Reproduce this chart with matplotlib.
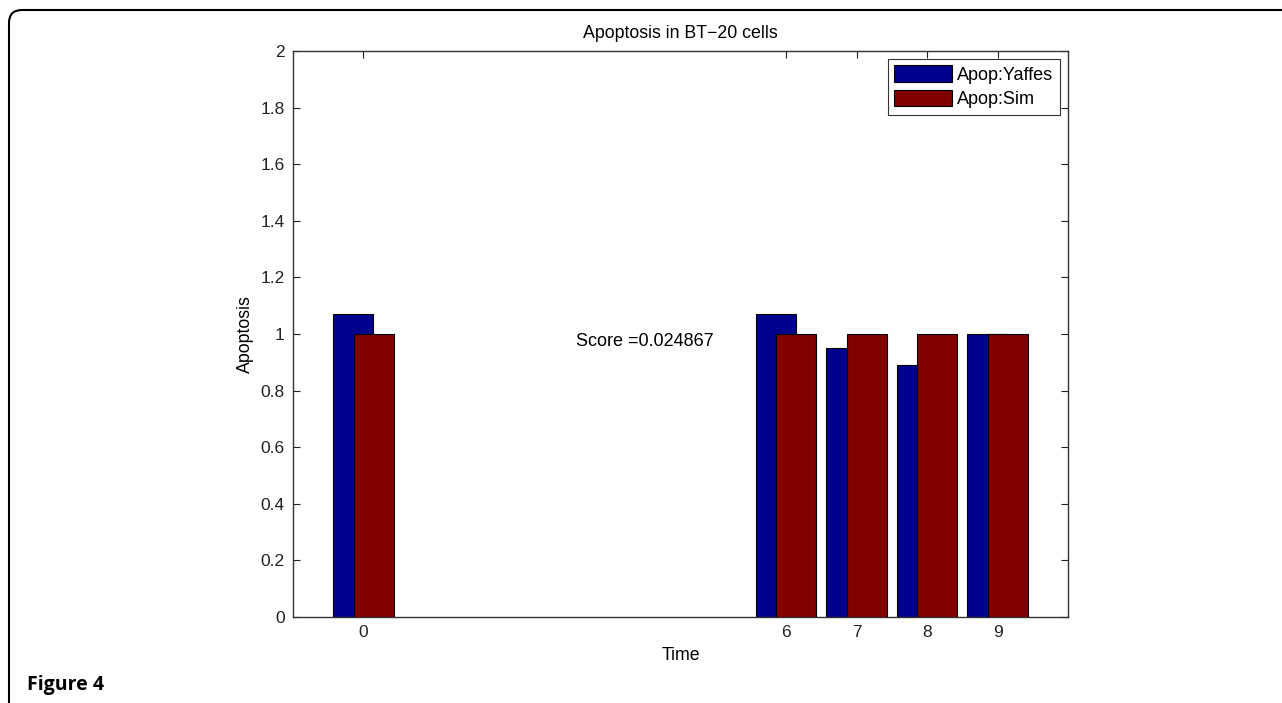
import matplotlib
matplotlib.use("Agg")
import matplotlib.pyplot as plt
import numpy as np
from matplotlib.patches import FancyBboxPatch
from matplotlib.transforms import IdentityTransform

# data
times = [0, 6, 7, 8, 9]
apop_yaffes = [1.07, 1.07, 0.95, 0.89, 1.0]
apop_sim = [1.0, 1.0, 1.0, 1.0, 1.0]
score_text = "Score =0.024867"

BLUE = "#00008F"
RED = "#800000"

plt.rcParams["font.family"] = ["Liberation Sans", "DejaVu Sans"]

W, H = 1282, 703
fig = plt.figure(figsize=(W / 100, H / 100), dpi=100)
ax = fig.add_axes([293 / W, 1 - 617 / H, (1068 - 293) / W, (617 - 51) / H])

x = np.array(times, dtype=float)
bw, off = 0.57, 0.145
ax.bar(x - off, apop_yaffes, bw, color=BLUE, edgecolor="black", lw=0.8,
       label="Apop:Yaffes", zorder=2)
ax.bar(x + off, apop_sim, bw, color=RED, edgecolor="black", lw=0.8,
       label="Apop:Sim", zorder=3)

ax.set_xlim(-1, 10)
ax.set_ylim(0, 2)
ax.set_xticks(times)
ax.set_yticks(np.arange(0, 2.01, 0.2))
ax.set_yticklabels(["0", "0.2", "0.4", "0.6", "0.8", "1", "1.2", "1.4", "1.6", "1.8", "2"])
ax.tick_params(direction="in", length=5, width=0.8, top=True, right=True,
               labelsize=12.5, pad=6, colors="#222222")
for s in ax.spines.values():
    s.set_color("#333333")
    s.set_linewidth(1.0)

ax.set_title("Apoptosis in BT\u221220 cells", fontsize=12.8, pad=9)
ax.set_xlabel("Time", fontsize=12.8, labelpad=5)
ax.set_ylabel("Apoptosis", fontsize=12.8, labelpad=5)
ax.text(3.02, 0.975, score_text, fontsize=13, va="center", ha="left")

leg = ax.legend(loc="upper right", fontsize=13, fancybox=False, framealpha=1,
                edgecolor="#333333", handlelength=3.2, handleheight=1.0,
                borderaxespad=0.45, borderpad=0.35, labelspacing=0.35,
                handletextpad=0.3)
leg.get_frame().set_linewidth(0.8)

# open frame around the figure (top + left edges, rounded corner)
frame = FancyBboxPatch((9, -40), 1400, H - 10 + 40,
                       boxstyle="round,pad=0,rounding_size=13",
                       transform=IdentityTransform(), fill=False,
                       edgecolor="black", lw=1.5)
fig.add_artist(frame)
fig.text(27 / W, 1 - 685 / H, "Figure 4", fontsize=14, fontweight="bold",
         family=["Open Sans", "DejaVu Sans"], va="center", ha="left")

fig.savefig("out.png", dpi=100)
